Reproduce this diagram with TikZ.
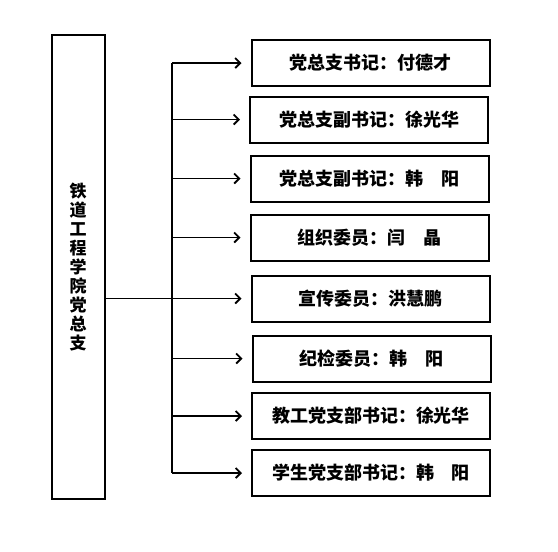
\documentclass[tikz,border=0pt]{standalone}
\usepackage{fontspec}
\newfontfamily\cjk{Noto Sans CJK SC}
\usepackage{tikz}
\usetikzlibrary{arrows.meta}
\tikzset{
    x=1pt, y=-1pt,
    member-box/.style = {draw=black, fill=white, line width=2pt, rectangle, minimum width=238pt, minimum height=46pt, inner sep=0pt, font=\cjk\bfseries\fontsize{18}{20}\selectfont},
    branch-box/.style = {draw=black, fill=white, line width=2pt, rectangle, minimum width=53pt, minimum height=464pt, inner sep=0pt, align=center, text width=18pt, font=\cjk\bfseries\fontsize{17}{19.1}\selectfont},
    branch-line/.style = {line width=1.8pt},
    branch-arrow/.style = {line width=1.8pt, -{Straight Barb[length=5pt, width=10pt, line width=1.8pt]}, shorten >=9pt},
}

\begin{document}
\begin{tikzpicture}
\useasboundingbox (0,0) rectangle (558,552);
\node [branch-box] (party) at (78,267) {铁\\道\\工\\程\\学\\院\\党\\总\\支};
\node [member-box] (m1) at (370.5,63) {党总支书记：付德才};
\node [member-box] (m2) at (369,119.5) {党总支副书记：徐光华};
\node [member-box] (m3) at (369.5,178.5) {党总支副书记：韩　阳};
\node [member-box] (m4) at (369.5,237.5) {组织委员：闫　晶};
\node [member-box] (m5) at (370.5,298.5) {宣传委员：洪慧鹏};
\node [member-box] (m6) at (371.5,358.5) {纪检委员：韩　阳};
\node [member-box] (m7) at (371,416) {教工党支部书记：徐光华};
\node [member-box] (m8) at (371,473) {学生党支部书记：韩　阳};
\coordinate (trunk) at (172,0);
\draw [branch-line] (trunk |- m1.west) -- (trunk |- m8.west);
\draw [branch-arrow] (party.east |- m5.west) -- (m5.west);
\draw [branch-arrow] (trunk |- m1.west) -- (m1.west);
\draw [branch-arrow] (trunk |- m2.west) -- (m2.west);
\draw [branch-arrow] (trunk |- m3.west) -- (m3.west);
\draw [branch-arrow] (trunk |- m4.west) -- (m4.west);
\draw [branch-arrow] (trunk |- m6.west) -- (m6.west);
\draw [branch-arrow] (trunk |- m7.west) -- (m7.west);
\draw [branch-arrow] (trunk |- m8.west) -- (m8.west);
\end{tikzpicture}
\end{document}
